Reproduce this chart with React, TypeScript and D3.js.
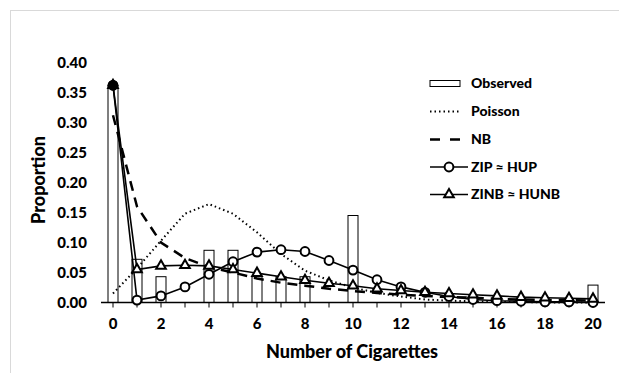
import React from "react";
import * as d3 from "d3";

// values
const cigarettes = d3.range(0, 21);
const observed = [0.362, 0.072, 0.043, 0, 0.087, 0.087, 0.043, 0.043, 0.043, 0, 0.145, 0, 0, 0, 0, 0, 0, 0, 0, 0, 0.029];
const poisson = [0.015, 0.057, 0.103, 0.148, 0.164, 0.148, 0.117, 0.081, 0.053, 0.037, 0.025, 0.016, 0.01, 0.005, 0.003, 0.002, 0.001, 0.001, 0, 0, 0];
const nb = [0.312, 0.16, 0.1, 0.074, 0.059, 0.05, 0.04, 0.033, 0.028, 0.023, 0.019, 0.016, 0.013, 0.011, 0.009, 0.008, 0.006, 0.005, 0.004, 0.004, 0.003];
const zip = [0.362, 0.004, 0.011, 0.026, 0.047, 0.068, 0.084, 0.088, 0.085, 0.07, 0.054, 0.038, 0.026, 0.017, 0.01, 0.005, 0.003, 0.002, 0.001, 0.001, 0];
const zinb = [0.362, 0.055, 0.061, 0.062, 0.061, 0.055, 0.049, 0.043, 0.037, 0.032, 0.028, 0.023, 0.02, 0.017, 0.015, 0.013, 0.011, 0.009, 0.008, 0.007, 0.006];
const yTicks = [0, 0.05, 0.1, 0.15, 0.2, 0.25, 0.3, 0.35, 0.4];
const legendLabels = ["Observed", "Poisson", "NB", "ZIP \u2248 HUP", "ZINB \u2248 HUNB"];

const W = 619;
const H = 373;
const font = "Lato, 'Open Sans', sans-serif";

export default function App() {
  const x = d3.scaleBand<number>().domain(cigarettes).range([101, 605]).padding(0);
  const cx = (d: number) => (x(d) as number) + x.bandwidth() / 2;
  const y = d3.scaleLinear().domain([0, 0.4]).range([302.5, 62.5]);

  const lineGen = d3
    .line<number>()
    .x((_, i) => cx(cigarettes[i]))
    .y((v) => y(v));

  const tri = d3.symbol().type(d3.symbolTriangle).size(40)() as string;
  const barW = 10;
  const legX = 430;
  const legY = [83.5, 111.5, 139.5, 167, 194.5];

  return (
    <svg width={W} height={H} style={{ position: "absolute", left: 0, top: 0, background: "#fff" }}>
      {/* outer frame */}
      <line x1={10} y1={10.5} x2={W} y2={10.5} stroke="#d9d9d9" />
      <line x1={10.5} y1={10} x2={10.5} y2={H} stroke="#d9d9d9" />

      {/* bars */}
      {cigarettes.map((c, i) =>
        observed[i] > 0 ? (
          <rect
            key={"b" + c}
            x={cx(c) - barW / 2}
            y={y(observed[i])}
            width={barW}
            height={y(0) - y(observed[i])}
            fill="#fff"
            stroke="#000"
            strokeWidth={1}
          />
        ) : null
      )}

      {/* x axis */}
      <line x1={101} x2={605} y1={y(0)} y2={y(0)} stroke="#000" strokeWidth={1.5} />
      {cigarettes.map((c) => (
        <line key={"t" + c} x1={cx(c)} x2={cx(c)} y1={y(0)} y2={y(0) + 5} stroke="#000" strokeWidth={1} />
      ))}
      {cigarettes
        .filter((c) => c % 2 === 0)
        .map((c) => (
          <text key={"xl" + c} x={cx(c)} y={329} textAnchor="middle" fontFamily={font} fontWeight={900} fontSize={15}>
            {c}
          </text>
        ))}

      {/* y labels */}
      {yTicks.map((t) => (
        <text key={"yl" + t} x={87} y={y(t)} dy="0.35em" textAnchor="end" fontFamily={font} fontWeight={900} fontSize={15}>
          {d3.format(".2f")(t)}
        </text>
      ))}

      {/* axis titles */}
      <text x={352} y={358} textAnchor="middle" fontFamily={font} fontWeight={900} fontSize={18}>
        Number of Cigarettes
      </text>
      <text transform="translate(45,180) rotate(-90)" textAnchor="middle" fontFamily={font} fontWeight={900} fontSize={18}>
        Proportion
      </text>

      {/* series */}
      <path d={lineGen(poisson) as string} fill="none" stroke="#000" strokeWidth={2} strokeDasharray="1.5,3" />
      <path d={lineGen(nb) as string} fill="none" stroke="#000" strokeWidth={2.5} strokeDasharray="10,7" />
      <path d={lineGen(zip) as string} fill="none" stroke="#000" strokeWidth={1.6} />
      <path d={lineGen(zinb) as string} fill="none" stroke="#000" strokeWidth={1.6} />
      {cigarettes.map((c, i) => (
        <circle key={"c" + c} cx={cx(c)} cy={y(zip[i])} r={4.4} fill="#fff" stroke="#000" strokeWidth={2} />
      ))}
      {cigarettes.map((c, i) => (
        <path key={"tr" + c} d={tri} transform={`translate(${cx(c)},${y(zinb[i])})`} fill="#fff" stroke="#000" strokeWidth={2} />
      ))}
      <circle cx={cx(0)} cy={y(zip[0])} r={5.2} fill="#000" />

      {/* legend */}
      <rect x={legX} y={legY[0] - 3} width={30} height={6} fill="#fff" stroke="#000" strokeWidth={1} />
      <line x1={legX} x2={legX + 30} y1={legY[1]} y2={legY[1]} stroke="#000" strokeWidth={2} strokeDasharray="1.5,3" />
      <line x1={legX} x2={legX + 32} y1={legY[2]} y2={legY[2]} stroke="#000" strokeWidth={2.5} strokeDasharray="10,10" />
      <line x1={legX} x2={legX + 38} y1={legY[3]} y2={legY[3]} stroke="#000" strokeWidth={1.6} />
      <circle cx={legX + 19} cy={legY[3]} r={4.4} fill="#fff" stroke="#000" strokeWidth={2} />
      <line x1={legX} x2={legX + 38} y1={legY[4]} y2={legY[4]} stroke="#000" strokeWidth={1.6} />
      <path d={tri} transform={`translate(${legX + 19},${legY[4]})`} fill="#fff" stroke="#000" strokeWidth={2} />
      {legendLabels.map((l, i) => (
        <text key={l} x={471} y={legY[i]} dy="0.35em" fontFamily={font} fontWeight={900} fontSize={14}>
          {l}
        </text>
      ))}
    </svg>
  );
}
